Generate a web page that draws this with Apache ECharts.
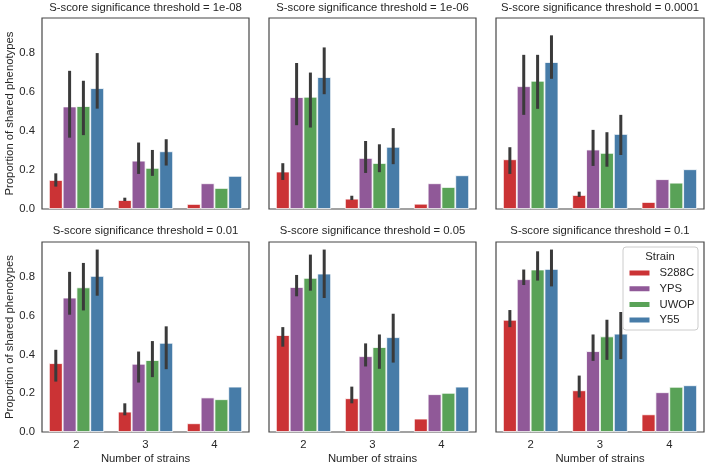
<!DOCTYPE html>
<html>
<head>
<meta charset="utf-8">
<script src="https://cdn.jsdelivr.net/npm/echarts@6/dist/echarts.min.js"></script>
<style>html,body{margin:0;padding:0;background:#fff;}#c{width:708px;height:467px;}</style>
</head>
<body>
<div id="c"></div>
<script>
// ---- data ----
const categories = ['2', '3', '4'];
const strains = ['S288C', 'YPS', 'UWOP', 'Y55'];
const thresholds = ['1e-08', '1e-06', '0.0001', '0.01', '0.05', '0.1'];
const titlePrefix = 'S-score significance threshold = ';
const xName = 'Number of strains';
const yName = 'Proportion of shared phenotypes';
const legendTitle = 'Strain';
const yTicks = ['0.0', '0.2', '0.4', '0.6', '0.8'];

// rows: strains (S288C, YPS, UWOP, Y55); columns: categories (2, 3, 4)
const mean_1e08 = [[0.149, 0.046, 0.026], [0.526, 0.248, 0.132], [0.528, 0.211, 0.108], [0.620, 0.296, 0.170]];
const lo_1e08   = [[0.115, 0.041, null], [0.366, 0.180, null], [0.379, 0.170, null], [0.515, 0.223, null]];
const hi_1e08   = [[0.183, 0.058, null], [0.709, 0.341, null], [0.658, 0.303, null], [0.800, 0.358, null]];

const mean_1e06 = [[0.192, 0.053, 0.027], [0.574, 0.262, 0.132], [0.576, 0.236, 0.113], [0.677, 0.319, 0.173]];
const lo_1e06   = [[0.149, 0.046, null], [0.430, 0.185, null], [0.418, 0.189, null], [0.589, 0.230, null]];
const hi_1e06   = [[0.235, 0.068, null], [0.749, 0.349, null], [0.700, 0.332, null], [0.829, 0.415, null]];

const mean_1e04 = [[0.255, 0.072, 0.036], [0.630, 0.305, 0.153], [0.658, 0.288, 0.135], [0.754, 0.385, 0.204]];
const lo_1e04   = [[0.180, 0.062, null], [0.483, 0.221, null], [0.514, 0.217, null], [0.668, 0.277, null]];
const hi_1e04   = [[0.317, 0.089, null], [0.791, 0.406, null], [0.791, 0.394, null], [0.891, 0.483, null]];

const mean_001 = [[0.355, 0.105, 0.045], [0.693, 0.352, 0.178], [0.746, 0.371, 0.169], [0.805, 0.460, 0.234]];
const lo_001   = [[0.260, 0.086, null], [0.605, 0.255, null], [0.627, 0.283, null], [0.703, 0.324, null]];
const hi_001   = [[0.424, 0.148, null], [0.826, 0.415, null], [0.872, 0.469, null], [0.941, 0.545, null]];

const mean_005 = [[0.500, 0.174, 0.069], [0.748, 0.391, 0.195], [0.795, 0.438, 0.202], [0.817, 0.489, 0.234]];
const lo_005   = [[0.440, 0.148, null], [0.700, 0.338, null], [0.729, 0.326, null], [0.691, 0.358, null]];
const hi_005   = [[0.541, 0.234, null], [0.810, 0.457, null], [0.915, 0.503, null], [0.941, 0.610, null]];

const mean_01 = [[0.579, 0.215, 0.091], [0.788, 0.417, 0.205], [0.838, 0.493, 0.233], [0.841, 0.507, 0.241]];
const lo_01   = [[0.541, 0.178, null], [0.758, 0.367, null], [0.781, 0.372, null], [0.751, 0.376, null]];
const hi_01   = [[0.629, 0.291, null], [0.838, 0.503, null], [0.932, 0.579, null], [0.941, 0.619, null]];

const panelMeans = [mean_1e08, mean_1e06, mean_1e04, mean_001, mean_005, mean_01];
const panelLo = [lo_1e08, lo_1e06, lo_1e04, lo_001, lo_005, lo_01];
const panelHi = [hi_1e08, hi_1e06, hi_1e04, hi_001, hi_005, hi_01];

// ---- style / layout ----
const colors = ['#cb3335', '#905998', '#59a257', '#477ca8'];
const FONT = "'Liberation Sans', Arial, Helvetica, sans-serif";
const TXT = '#262626';
const FS = 11.3;
const colLeft = [42, 269, 496];
const colWidth = [207, 207, 208];
const rowTop = [18, 242];
const rowHeight = [191, 190];

const grids = [], xAxes = [], yAxes = [], titles = [], series = [];
for (let p = 0; p < 6; p++) {
  const r = Math.floor(p / 3), c = p % 3;
  grids.push({ left: colLeft[c], top: rowTop[r], width: colWidth[c], height: rowHeight[r],
    show: true, borderColor: '#474747', borderWidth: 1.2, backgroundColor: 'transparent' });
  xAxes.push({ type: 'category', gridIndex: p, data: categories,
    axisLine: { show: false }, axisTick: { show: false },
    axisLabel: { show: r === 1, color: TXT, fontSize: FS, fontFamily: FONT, margin: 7 },
    name: r === 1 ? xName : '', nameLocation: 'middle', nameGap: 21,
    nameTextStyle: { color: TXT, fontSize: FS, fontFamily: FONT } });
  yAxes.push({ type: 'value', gridIndex: p, min: 0, max: 0.98, interval: 0.2,
    splitLine: { show: false }, axisLine: { show: false }, axisTick: { show: false },
    axisLabel: { show: c === 0, color: TXT, fontSize: FS, fontFamily: FONT, margin: 7,
      formatter: function (v) { const i = Math.round(v / 0.2); return Math.abs(v - i * 0.2) < 1e-6 && i < yTicks.length ? yTicks[i] : ''; } },
    name: c === 0 ? yName : '', nameLocation: 'middle', nameGap: 26, nameRotate: 90,
    nameTextStyle: { color: TXT, fontSize: FS, fontFamily: FONT } });
  titles.push({ text: titlePrefix + thresholds[p], left: colLeft[c] + colWidth[c] / 2, top: r === 0 ? 2 : 225.5,
    textAlign: 'center', padding: 0,
    textStyle: { color: TXT, fontSize: FS, fontFamily: FONT, fontWeight: 'normal' } });

  for (let j = 0; j < 4; j++) {
    series.push({ type: 'bar', name: strains[j], xAxisIndex: p, yAxisIndex: p,
      data: panelMeans[p][j], barGap: '0%', barCategoryGap: '20%',
      itemStyle: { color: colors[j], borderColor: '#ffffff', borderWidth: 0.8 },
      emphasis: { disabled: true }, silent: true, animation: false });
  }
  for (let j = 0; j < 4; j++) {
    const errData = [];
    for (let k = 0; k < categories.length; k++) {
      if (panelLo[p][j][k] != null) errData.push([k, panelLo[p][j][k], panelHi[p][j][k]]);
    }
    series.push({ type: 'custom', xAxisIndex: p, yAxisIndex: p, data: errData, z: 10,
      encode: { x: 0, y: [1, 2] }, silent: true, animation: false,
      renderItem: (function (jj) {
        return function (params, api) {
          const k = api.value(0);
          const a = api.coord([k, api.value(1)]);
          const b = api.coord([k, api.value(2)]);
          const band = api.size([1, 0])[0];
          const x = a[0] + (jj - 1.5) * band * 0.2;
          return { type: 'line', shape: { x1: x, y1: a[1], x2: x, y2: b[1] },
            style: { stroke: '#3a3a3a', lineWidth: 3, lineCap: 'butt' } };
        };
      })(j) });
  }
}

const chart = echarts.init(document.getElementById('c'), null, { renderer: 'canvas' });
chart.setOption({
  animation: false,
  backgroundColor: '#ffffff',
  title: titles,
  grid: grids,
  xAxis: xAxes,
  yAxis: yAxes,
  series: series,
  legend: { data: strains, orient: 'vertical', left: 627.5, top: 266.5, padding: 0, z: 20,
    itemWidth: 22, itemHeight: 7, itemGap: 2.7, icon: 'rect', selectedMode: false,
    textStyle: { color: TXT, fontSize: FS, fontFamily: FONT, lineHeight: 13, padding: [0, 0, 0, 4] } },
  graphic: [
    { type: 'rect', z: 15, shape: { x: 623, y: 247, width: 75, height: 83, r: 3 },
      style: { fill: 'rgba(255,255,255,0.85)', stroke: '#cccccc', lineWidth: 1 } },
    { type: 'text', z: 21, x: 660, y: 256.7,
      style: { text: legendTitle, fill: TXT, font: FS + 'px ' + FONT, textAlign: 'center', textVerticalAlign: 'middle' } }
  ]
});
</script>
</body>
</html>
